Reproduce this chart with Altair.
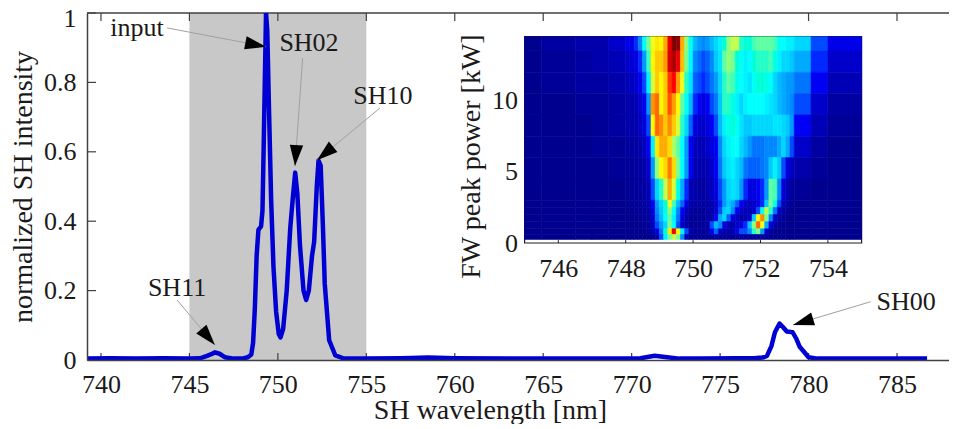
import altair as alt
import pandas as pd

FONT = "Liberation Serif"
INK = "#1a1a1a"
AX = "#404040"
FS = 26
TS = 28

# main spectrum
wl = [739.2,740.5,742,743.5,745,745.6,746,746.2,746.45,746.7,747,747.5,748,748.3,748.5,748.6,748.7,748.8,748.9,
      749.05,749.13,749.2,749.33,749.4,749.5,749.62,749.75,749.9,750.05,750.15,750.3,750.5,750.7,750.85,750.98,751.1,
      751.25,751.45,751.6,751.75,751.93,752.05,752.2,752.3,752.42,752.55,752.65,752.9,753.25,753.7,755,757,758.5,760,
      763,766,769,770.5,771.3,772,772.7,774,776,776.9,777.4,777.65,777.9,778.1,778.36,778.55,778.77,779.1,779.3,779.5,
      780,780.5,782,784,786.7]
sh = [.004,.005,.004,.005,.004,.005,.012,.016,.022,.018,.008,.004,.004,.008,.016,.05,.15,.3,.375,
      .385,.43,.62,1.0,.95,.72,.46,.27,.14,.075,.065,.09,.2,.38,.47,.54,.48,
      .33,.2,.173,.2,.3,.34,.5,.575,.56,.38,.22,.057,.013,.005,.004,.005,.007,.005,
      .004,.004,.004,.005,.012,.008,.004,.004,.005,.005,.007,.012,.04,.08,.105,.095,.082,.08,.062,.038,
      .008,.004,.004,.004,.004]

x_ticks = [740,745,750,755,760,765,770,775,780,785]
y_ticks = [0,.2,.4,.6,.8,1]

# annotations
lab_text = ["input","SH02","SH10","SH11","SH00"]
lab_x = [742.04,751.76,755.94,744.30,785.52]
lab_y = [.957,.914,.761,.207,.168]
arr_x0 = [743.73,751.40,755.77,744.30,783.51]
arr_y0 = [.957,.870,.726,.173,.168]
arr_x1 = [749.33,750.97,752.21,746.44,779.12]
arr_y1 = [.903,.559,.576,.043,.101]
arr_ang = [100.7,184,230.5,139.8,253.3]

# inset map
kw_edges = [14.5,13.5,12,10.5,9,7.5,6,4.5,3,2.5,2,1.5,1,.6,.25]
nm_edges = [745,745.5,746.5,747,747.5] + [748+.125*i for i in range(41)] + [753.5,754,755]
r1  = [0,2,3,3,6, 9,9,12,20,38,50,60,64,62,72,88,100,98,72,52,38,26,22,20,22,26,30,34,42,52,56,56,44,42,42,46,48,48,48,48,46,38,36,34,34, 30,14,9]
r2  = [0,1,2,3,4, 6,7,8,12,22,45,62,68,68,74,90,95,88,70,50,35,20,17,14,16,20,28,32,48,52,50,42,38,34,36,42,44,44,44,46,40,34,30,30,28, 24,12,6]
r3  = [0,1,2,2,3, 4,5,6,10,14,34,58,68,62,68,84,86,74,60,44,32,16,14,12,14,18,22,30,44,48,46,40,36,34,32,38,42,42,40,38,30,26,24,22,22, 18,10,4]
r4  = [0,0,1,1,2, 3,3,4,6,10,22,75,80,62,68,82,74,62,48,38,26,12,10,8,10,14,18,28,44,44,40,34,30,34,36,36,36,36,34,32,30,26,24,22,20, 14,6,2]
r5  = [0,0,0,1,2, 3,3,3,5,8,14,62,80,76,68,76,68,58,44,30,16,8,6,6,8,10,14,26,34,40,42,38,32,28,28,30,30,30,30,30,32,32,30,28,22, 10,4,1]
r6  = [0,0,0,1,1, 2,2,2,3,5,10,34,64,72,72,66,54,48,36,22,10,5,4,4,6,8,10,20,30,34,38,36,30,26,22,18,18,18,20,20,20,24,30,24,14, 6,2,0]
r7  = [0,0,0,0,1, 1,1,2,2,3,6,22,52,62,66,78,66,50,36,22,10,4,3,3,4,6,10,18,28,32,34,30,26,18,16,16,16,18,20,28,34,28,14,8,5, 3,1,0]
r8  = [0,0,0,0,0, 1,1,1,2,2,4,14,30,44,56,72,58,40,24,12,4,3,2,2,3,5,8,14,22,30,32,30,22,12,8,8,10,12,22,48,46,20,8,3,2, 1,0,0]
r9  = [0,0,0,0,0, 0,1,1,1,2,3,10,22,30,42,60,46,26,16,8,3,2,2,2,2,3,6,12,22,28,24,16,10,6,5,6,8,12,28,50,40,14,4,2,1, 0,0,0]
r10 = [0,0,0,0,0, 0,0,1,1,1,2,8,20,28,40,52,38,20,10,4,2,1,1,1,2,3,6,14,28,30,20,10,6,4,4,6,14,38,56,44,18,6,2,1,0, 0,0,0]
r11 = [0,0,0,0,0, 0,0,0,1,1,2,6,18,26,36,48,34,18,8,3,1,1,1,1,2,3,10,24,30,16,8,5,3,3,6,28,62,76,50,20,6,2,1,0,0, 0,0,0]
r12 = [0,0,0,0,0, 0,0,0,0,1,1,5,14,22,30,50,36,14,6,2,1,1,1,1,2,14,26,20,8,4,3,6,8,12,28,52,80,60,24,8,2,1,0,0,0, 0,0,0]
r13 = [0,0,0,0,0, 0,0,0,0,0,1,3,8,18,42,64,88,62,34,14,3,1,1,1,2,10,16,6,3,3,4,8,14,14,20,44,50,22,6,2,0,0,0,0,0, 0,0,0]
r14 = [0,0,0,0,0, 0,0,0,0,0,0,1,2,14,34,50,56,50,20,3,1,1,1,1,1,1,1,1,1,1,1,1,1,1,1,1,1,1,1,0,0,0,0,0,0, 0,0,0]
rows = [r1,r2,r3,r4,r5,r6,r7,r8,r9,r10,r11,r12,r13,r14]
jet_stops = [0,11,36,61,86,100]
jet_cols = ["#00008f","#0000ff","#00ffff","#ffff00","#ff0000","#800000"]
in_x_ticks = [746,748,750,752,754]
in_y_ticks = [0,5,10]

W, H = 862, 347
xs = alt.Scale(domain=[739.21,787.94], nice=False, zero=False)
ys = alt.Scale(domain=[0,1], nice=False)
X = lambda f, **k: alt.X(f, scale=xs, axis=None, **k)
Y = lambda f, **k: alt.Y(f, scale=ys, axis=None, **k)

df_line = pd.DataFrame({"wl": wl, "sh": sh})
df_xt = pd.DataFrame({"t": x_ticks})
df_yt = pd.DataFrame({"t": y_ticks})
df_arr = pd.DataFrame({"x0": arr_x0, "y0": arr_y0, "x1": arr_x1, "y1": arr_y1, "a": arr_ang})
df_lab = pd.DataFrame({"x": lab_x, "y": lab_y, "s": lab_text})

shade = alt.Chart(pd.DataFrame({"a": [745], "b": [755], "c": [0], "d": [1]})).mark_rect(color="#c8c8c8").encode(
    x=alt.X("a:Q", scale=xs, title="SH wavelength [nm]",
            axis=alt.Axis(values=x_ticks, tickSize=0, grid=False, domainColor=AX, domainWidth=1.5, zindex=1,
                          orient="bottom",
                          labelFont=FONT, labelFontSize=FS, labelColor=INK, labelPadding=11, labelOverlap=False,
                          labelFlush=False, titleFont=FONT, titleFontSize=TS, titleFontWeight="normal",
                          titleColor=INK, titleX=403, titleY=58, titleBaseline="alphabetic")),
    x2="b:Q",
    y=alt.Y("c:Q", scale=ys, title="normalized SH intensity",
            axis=alt.Axis(values=y_ticks, format="~g", tickSize=0, grid=False, domainColor=AX, domainWidth=1.5,
                          orient="left",
                          labelOffset={"condition": {"test": "datum.value === 1", "value": 5}, "value": 0},
                          zindex=1, labelFont=FONT, labelFontSize=FS, labelColor=INK, labelPadding=11,
                          labelOverlap=False, labelFlush=False, titleFont=FONT, titleFontSize=TS,
                          titleFontWeight="normal", titleColor=INK, titlePadding=6)),
    y2="d:Q")
top = alt.Chart(pd.DataFrame({"t": [1]})).mark_rule(color=AX, strokeWidth=1.5).encode(
    y=Y("t:Q"), x=alt.value(0), x2=alt.value(W))
xt_b = alt.Chart(df_xt).mark_rule(color=AX, strokeWidth=1.2).encode(x=X("t:Q"), y=alt.value(H), y2=alt.value(H-7))
xt_t = alt.Chart(df_xt).mark_rule(color=AX, strokeWidth=1.2).encode(x=X("t:Q"), y=alt.value(0), y2=alt.value(8))
yt = alt.Chart(df_yt).mark_rule(color=AX, strokeWidth=1.2).encode(y=Y("t:Q"), x=alt.value(0), x2=alt.value(9))
line = alt.Chart(df_line).mark_line(color="#0000d2", strokeWidth=4.5, clip=True, strokeJoin="round").encode(
    x=X("wl:Q"), y=Y("sh:Q"))
arr = alt.Chart(df_arr).mark_rule(color="#a0a0a0", strokeWidth=1).encode(
    x=X("x0:Q"), x2="x1:Q", y=Y("y0:Q"), y2="y1:Q")
heads = alt.Chart(df_arr).mark_point(shape="M0,0L-0.64,2L0.64,2Z", filled=True, color="black", opacity=1, size=440).encode(
    x=X("x1:Q"), y=Y("y1:Q"), angle=alt.Angle("a:Q", scale=None))
labels = alt.Chart(df_lab).mark_text(font=FONT, fontSize=FS, color=INK, baseline="middle", align="center").encode(
    x=X("x:Q"), y=Y("y:Q"), text="s:N")

# inset
rec = []
for i, row in enumerate(rows):
    assert len(row) == len(nm_edges) - 1, (i, len(row), len(nm_edges))
    for j, v in enumerate(row):
        rec.append({"x0": nm_edges[j], "x1": nm_edges[j+1], "y0": kw_edges[i+1], "y1": kw_edges[i], "v": v})
df_heat = pd.DataFrame(rec)
ixs = alt.Scale(domain=[745,755], range=[437.6,774.6], nice=False, zero=False)
iys = alt.Scale(domain=[0,14.5], range=[230,23.7], nice=False)

frame = alt.Chart(pd.DataFrame({"a": [745], "b": [755], "c": [0], "d": [14.5]})).mark_rect(
    fill="white", stroke="#202020", strokeWidth=1.2).encode(
    x=alt.X("a:Q", scale=ixs, title=None,
            axis=alt.Axis(values=in_x_ticks, tickSize=0, grid=False, domain=False, offset=-117, zindex=1,
                          orient="bottom",
                          labelFont=FONT, labelFontSize=FS, labelColor=INK, labelPadding=12,
                          labelOverlap=False, labelFlush=False)),
    x2="b:Q",
    y=alt.Y("c:Q", scale=iys, title="FW peak power [kW]",
            axis=alt.Axis(values=in_y_ticks, tickSize=0, grid=False, domain=False, offset=-437.6, zindex=1,
                          orient="left", titleY=143,
                          labelFont=FONT, labelFontSize=FS, labelColor=INK, labelPadding=7,
                          labelOverlap=False, labelFlush=False, titleFont=FONT, titleFontSize=TS,
                          titleFontWeight="normal", titleColor=INK, titlePadding=6)),
    y2="d:Q")
heat = alt.Chart(df_heat).mark_rect(strokeWidth=0.6).encode(
    x=alt.X("x0:Q", scale=ixs, axis=None), x2="x1:Q",
    y=alt.Y("y0:Q", scale=iys, axis=None), y2="y1:Q",
    color=alt.Color("v:Q", scale=alt.Scale(domain=jet_stops, range=jet_cols), legend=None),
    stroke=alt.Stroke("v:Q", scale=alt.Scale(domain=jet_stops, range=jet_cols), legend=None))
it = alt.Chart(pd.DataFrame({"t": in_x_ticks, "b": [0]*5, "c": [.2]*5})).mark_rule(color="#202020", strokeWidth=1).encode(
    x=alt.X("t:Q", scale=ixs, axis=None),
    y=alt.Y("b:Q", scale=iys, axis=None), y2="c:Q")

chart = (alt.layer(shade, top, xt_b, xt_t, yt, line, arr, heads, labels, frame, heat, it)
         .resolve_scale(x="independent", y="independent")
         .properties(width=W, height=H, padding={"left": 79, "top": 5, "right": 0, "bottom": 64},
                     autosize=alt.AutoSizeParams(type="none"), background="white")
         .configure_view(strokeWidth=0))
chart.save("out.html", embed_options={"renderer": "svg", "actions": False})
